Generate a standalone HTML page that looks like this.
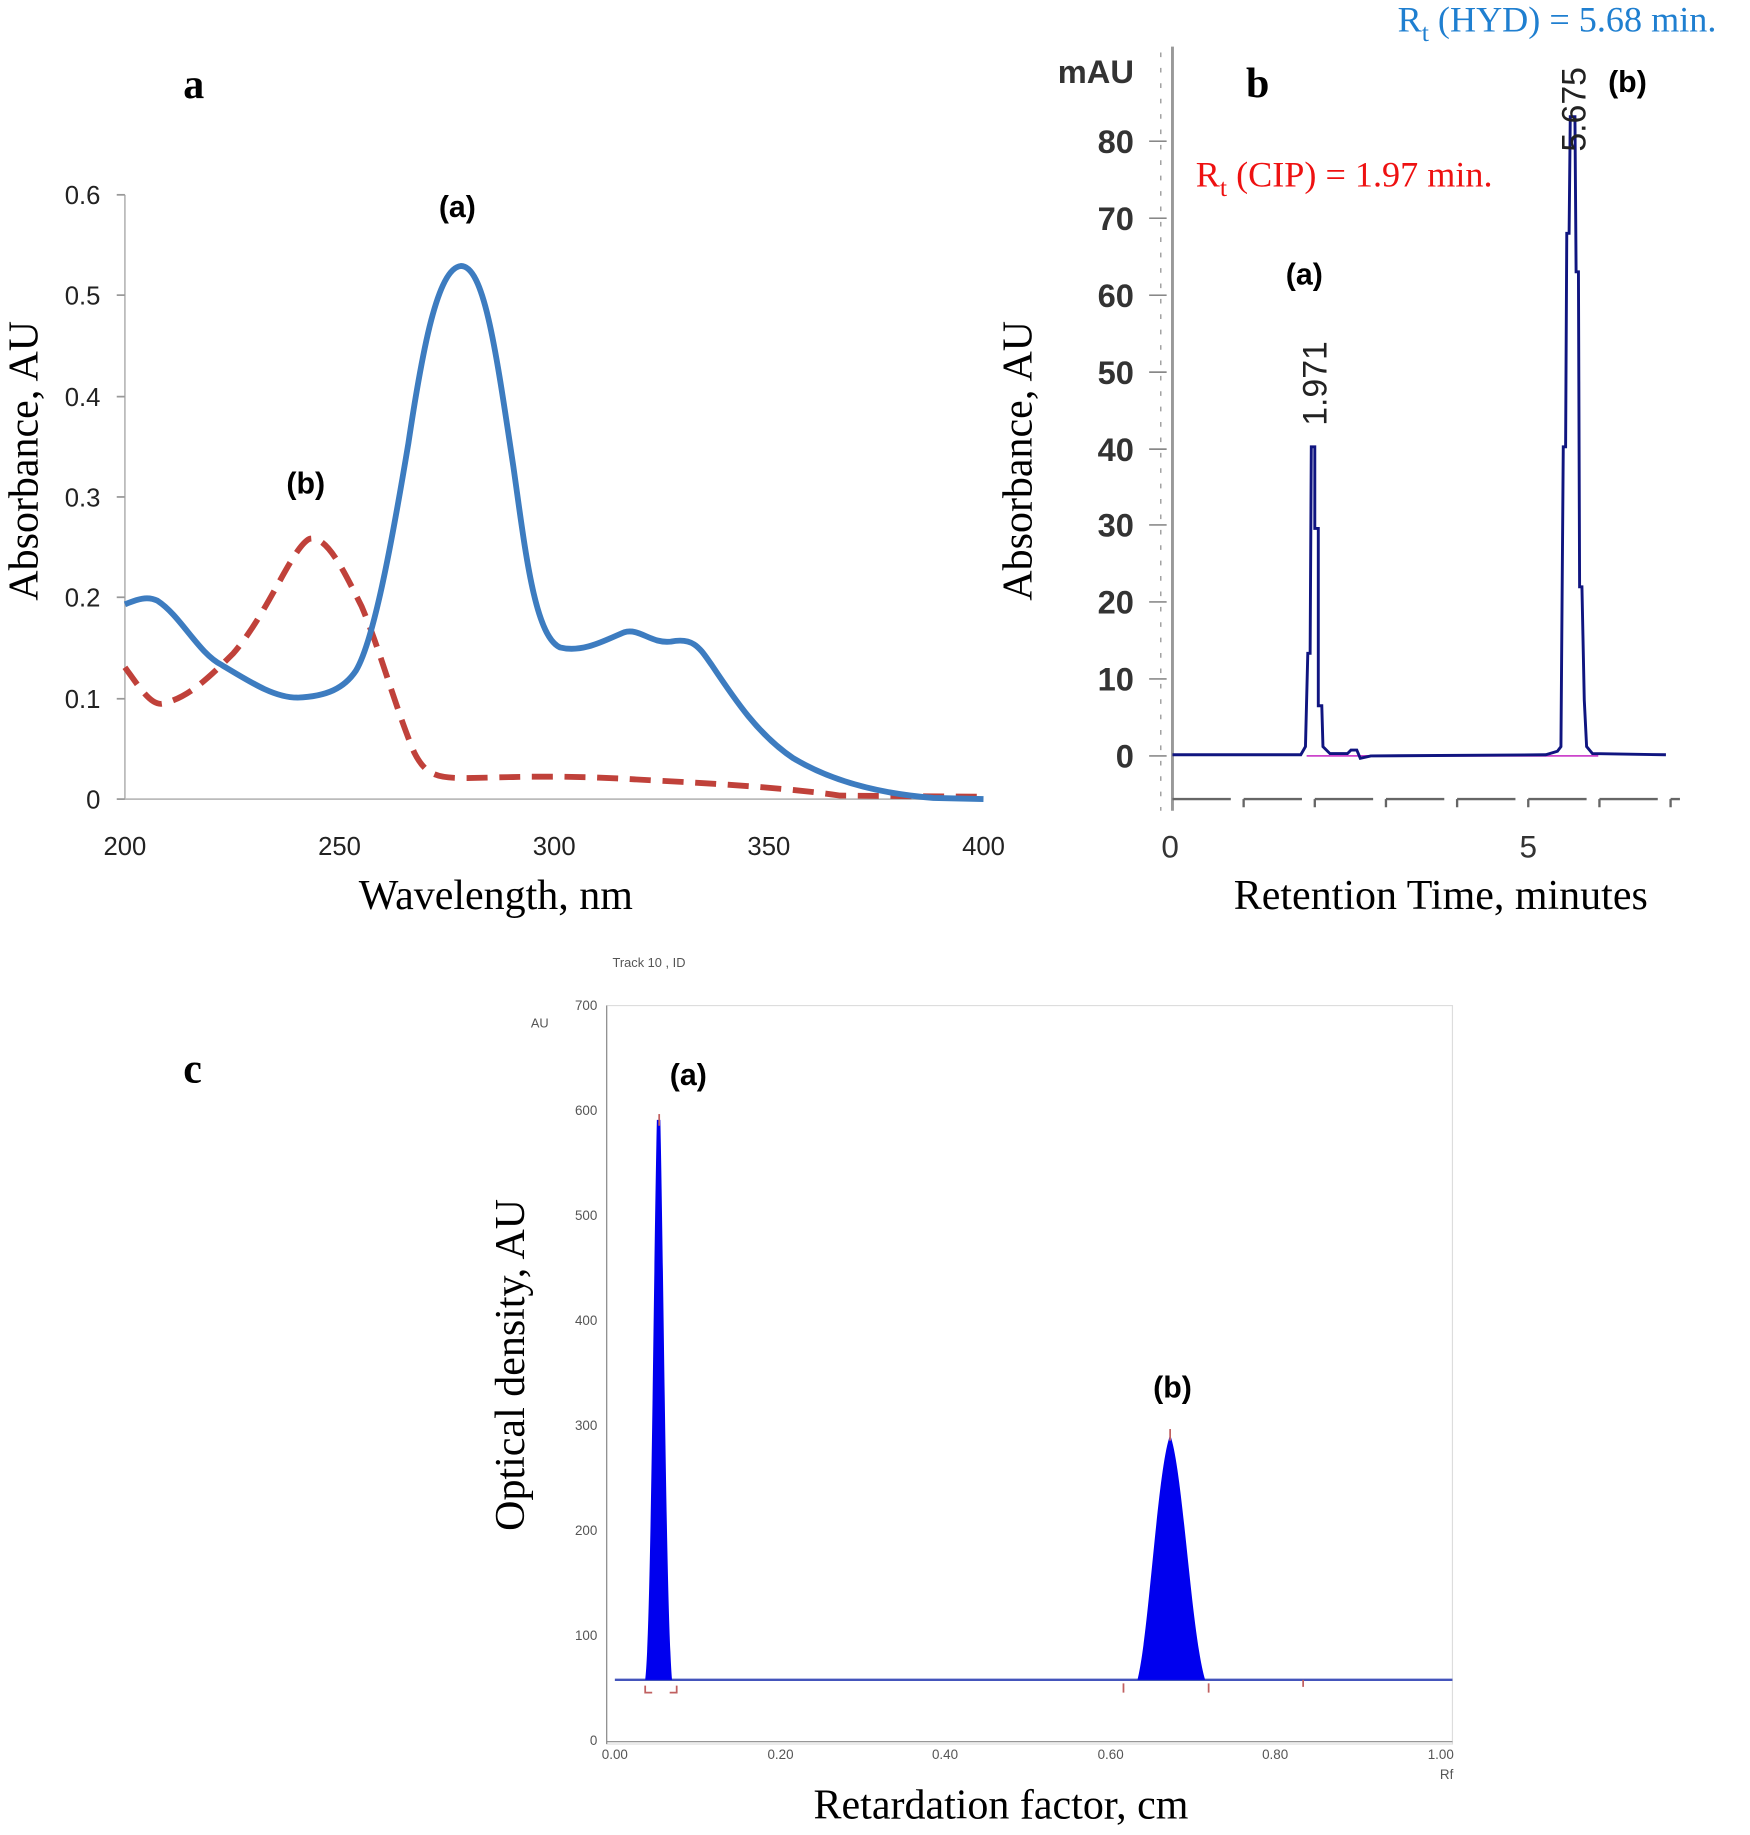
<!DOCTYPE html>
<html><head><meta charset="utf-8"><style>
html,body{margin:0;padding:0;background:#fff;}
svg{display:block;}
.s{font-family:"Liberation Sans",sans-serif;}
.r{font-family:"Liberation Serif",serif;}
</style></head><body>
<svg width="1750" height="1835" viewBox="0 0 1500 1573" xmlns="http://www.w3.org/2000/svg">
<rect width="1500" height="1573" fill="#fff"/>
<!-- Panel a -->
<text x="157" y="84" class="r" font-size="36" font-weight="bold">a</text>
<g stroke="#bbb" stroke-width="1.5" fill="none">
<line x1="107" y1="167" x2="107" y2="685"/><line x1="107" y1="685" x2="843" y2="685"/>
</g>
<g class="s" font-size="22" fill="#222" text-anchor="end">
<text x="86" y="175">0.6</text><text x="86" y="261">0.5</text><text x="86" y="348">0.4</text>
<text x="86" y="434">0.3</text><text x="86" y="520">0.2</text><text x="86" y="607">0.1</text><text x="86" y="693">0</text>
</g>
<g stroke="#999" stroke-width="1.5"><line x1="100" y1="167" x2="107" y2="167"/><line x1="100" y1="253" x2="107" y2="253"/><line x1="100" y1="340" x2="107" y2="340"/><line x1="100" y1="426" x2="107" y2="426"/><line x1="100" y1="512" x2="107" y2="512"/><line x1="100" y1="599" x2="107" y2="599"/><line x1="100" y1="685" x2="107" y2="685"/></g>
<g class="s" font-size="22" fill="#222" text-anchor="middle">
<text x="107" y="733">200</text><text x="291" y="733">250</text><text x="475" y="733">300</text><text x="659" y="733">350</text><text x="843" y="733">400</text>
</g>
<text class="r" font-size="36" transform="translate(32,395) rotate(-90)" text-anchor="middle">Absorbance, AU</text>
<text class="r" font-size="36" x="425" y="779" text-anchor="middle">Wavelength, nm</text>
<path d="M107,572 C120,590 130,606 140,603 C160,598 175,585 200,560 C230,525 250,470 265,462 C280,458 295,490 310,520 C325,555 340,610 355,645 C365,665 375,667 400,667 C450,666 480,664 560,669 C620,672 680,676 720,682 L843,683" stroke="#c0413a" stroke-width="5" fill="none" stroke-dasharray="18,10"/>
<path d="M107,518 C115,515 125,510 135,515 C155,528 170,560 190,570 C215,585 235,598 255,598 C280,597 295,590 305,575 C320,550 335,470 350,380 C362,300 375,230 395,228 C415,228 425,300 440,400 C450,470 458,545 480,555 C500,560 520,548 535,542 C548,538 558,552 575,550 C595,546 600,556 610,570 C630,600 650,630 680,650 C710,668 750,680 800,684 L843,685" stroke="#3d7cc0" stroke-width="5" fill="none"/>
<text x="392" y="186" class="s" font-size="26" font-weight="bold" text-anchor="middle">(a)</text>
<text x="262" y="423" class="s" font-size="26" font-weight="bold" text-anchor="middle">(b)</text>

<!-- Panel b -->
<text x="1198" y="27" class="r" font-size="31" fill="#1f7fd0">R<tspan font-size="22" dy="8">t</tspan><tspan dy="-8">  (HYD) = 5.68 min.</tspan></text>
<text x="1025" y="160" class="r" font-size="31" fill="#ee1111">R<tspan font-size="22" dy="8">t</tspan><tspan dy="-8">  (CIP) = 1.97 min.</tspan></text>
<text x="1068" y="83" class="r" font-size="36" font-weight="bold">b</text>
<text x="1118" y="244" class="s" font-size="26" font-weight="bold" text-anchor="middle">(a)</text>
<text x="1395" y="79" class="s" font-size="26" font-weight="bold" text-anchor="middle">(b)</text>
<line x1="1005" y1="40" x2="1005" y2="695" stroke="#999" stroke-width="2.5"/>
<g stroke="#777" stroke-width="1.2">
<line x1="985" y1="121" x2="1000" y2="121"/><line x1="985" y1="187" x2="1000" y2="187"/><line x1="985" y1="253" x2="1000" y2="253"/><line x1="985" y1="319" x2="1000" y2="319"/><line x1="985" y1="385" x2="1000" y2="385"/><line x1="985" y1="450" x2="1000" y2="450"/><line x1="985" y1="516" x2="1000" y2="516"/><line x1="985" y1="582" x2="1000" y2="582"/><line x1="985" y1="648" x2="1000" y2="648"/>
</g>
<g stroke="#888" stroke-width="1" stroke-dasharray="4,9.2"><line x1="995" y1="45" x2="995" y2="695"/></g>
<g class="s" font-size="28" font-weight="bold" fill="#333" text-anchor="end">
<text x="972" y="71">mAU</text><text x="972" y="131">80</text><text x="972" y="197">70</text><text x="972" y="263">60</text><text x="972" y="329">50</text><text x="972" y="395">40</text><text x="972" y="460">30</text><text x="972" y="526">20</text><text x="972" y="592">10</text><text x="972" y="658">0</text>
</g>
<g stroke="#666" stroke-width="2"><line x1="1005" y1="685" x2="1440" y2="685" stroke-dasharray="50,11"/></g>
<g stroke="#666" stroke-width="2"><line x1="1066" y1="685" x2="1066" y2="692"/><line x1="1127" y1="685" x2="1127" y2="692"/><line x1="1188" y1="685" x2="1188" y2="692"/><line x1="1249" y1="685" x2="1249" y2="692"/><line x1="1310" y1="685" x2="1310" y2="692"/><line x1="1371" y1="685" x2="1371" y2="692"/><line x1="1432" y1="685" x2="1432" y2="692"/></g>
<g class="s" font-size="27" fill="#333" text-anchor="middle"><text x="1003" y="735">0</text><text x="1310" y="735">5</text></g>
<text class="r" font-size="36" transform="translate(884,395) rotate(-90)" text-anchor="middle">Absorbance, AU</text>
<text class="r" font-size="36" x="1235" y="779" text-anchor="middle">Retention Time, minutes</text>
<line x1="1120" y1="648" x2="1370" y2="648" stroke="#cc44cc" stroke-width="1.5"/>
<path d="M1005,647 L1115,647 L1119,640 L1121,560 L1123,560 L1124,383 L1127,383 L1127,453 L1130,453 L1130,605 L1133,605 L1134,640 L1140,646 L1155,646 L1158,643 L1163,643 L1166,650 L1175,648 L1325,647 L1335,644 L1338,640 L1340,383 L1342,383 L1343,200 L1345,200 L1346,100 L1350,100 L1351,233 L1353,233 L1354,503 L1356,503 L1358,600 L1360,640 L1365,646 L1428,647" stroke="#101580" stroke-width="2.5" fill="none"/>
<text class="s" font-size="29" fill="#222" transform="translate(1137,365) rotate(-90)">1.971</text>
<text class="s" font-size="29" fill="#222" transform="translate(1359,130) rotate(-90)">5.675</text>

<!-- Panel c -->
<text x="157" y="928" class="r" font-size="36" font-weight="bold">c</text>
<text x="525" y="829" class="s" font-size="11" fill="#555">Track 10 , ID</text>
<text x="455" y="881" class="s" font-size="11" fill="#555">AU</text>
<rect x="520" y="862" width="725" height="633" fill="none" stroke="#ddd" stroke-width="1"/>
<line x1="520" y1="862" x2="520" y2="1495" stroke="#888" stroke-width="1"/>
<line x1="520" y1="1493" x2="1245" y2="1493" stroke="#888" stroke-width="1"/>
<g class="s" font-size="11.5" fill="#555" text-anchor="end">
<text x="512" y="866">700</text><text x="512" y="956">600</text><text x="512" y="1046">500</text><text x="512" y="1136">400</text><text x="512" y="1226">300</text><text x="512" y="1316">200</text><text x="512" y="1406">100</text><text x="512" y="1496">0</text>
</g>
<g class="s" font-size="11.5" fill="#555" text-anchor="middle">
<text x="527" y="1508">0.00</text><text x="669" y="1508">0.20</text><text x="810" y="1508">0.40</text><text x="952" y="1508">0.60</text><text x="1093" y="1508">0.80</text><text x="1235" y="1508">1.00</text><text x="1240" y="1525">Rf</text>
</g>
<path d="M527,1440 L1245,1440" stroke="#4455bb" stroke-width="2" fill="none"/>
<path d="M553,1440 C558,1400 560,1100 563,960 L566,960 C569,1100 571,1380 576,1440 Z" fill="#0000ee"/>
<path d="M975,1440 C985,1400 992,1260 1003,1230 C1014,1260 1021,1400 1033,1440 Z" fill="#0000ee"/>
<g stroke="#c06060" stroke-width="1.5" fill="none">
<path d="M553,1445 v6 h6 M580,1445 v6 h-6 M963,1443 v8 M1036,1443 v8 M1117,1440 v6"/>
<line x1="565" y1="955" x2="565" y2="965"/><line x1="1003" y1="1225" x2="1003" y2="1235"/>
</g>
<text x="590" y="930" class="s" font-size="26" font-weight="bold" text-anchor="middle">(a)</text>
<text x="1005" y="1198" class="s" font-size="26" font-weight="bold" text-anchor="middle">(b)</text>
<text class="r" font-size="36" transform="translate(449,1170) rotate(-90)" text-anchor="middle">Optical density, AU</text>
<text class="r" font-size="36" x="858" y="1559" text-anchor="middle">Retardation factor, cm</text>
</svg>
</body></html>
